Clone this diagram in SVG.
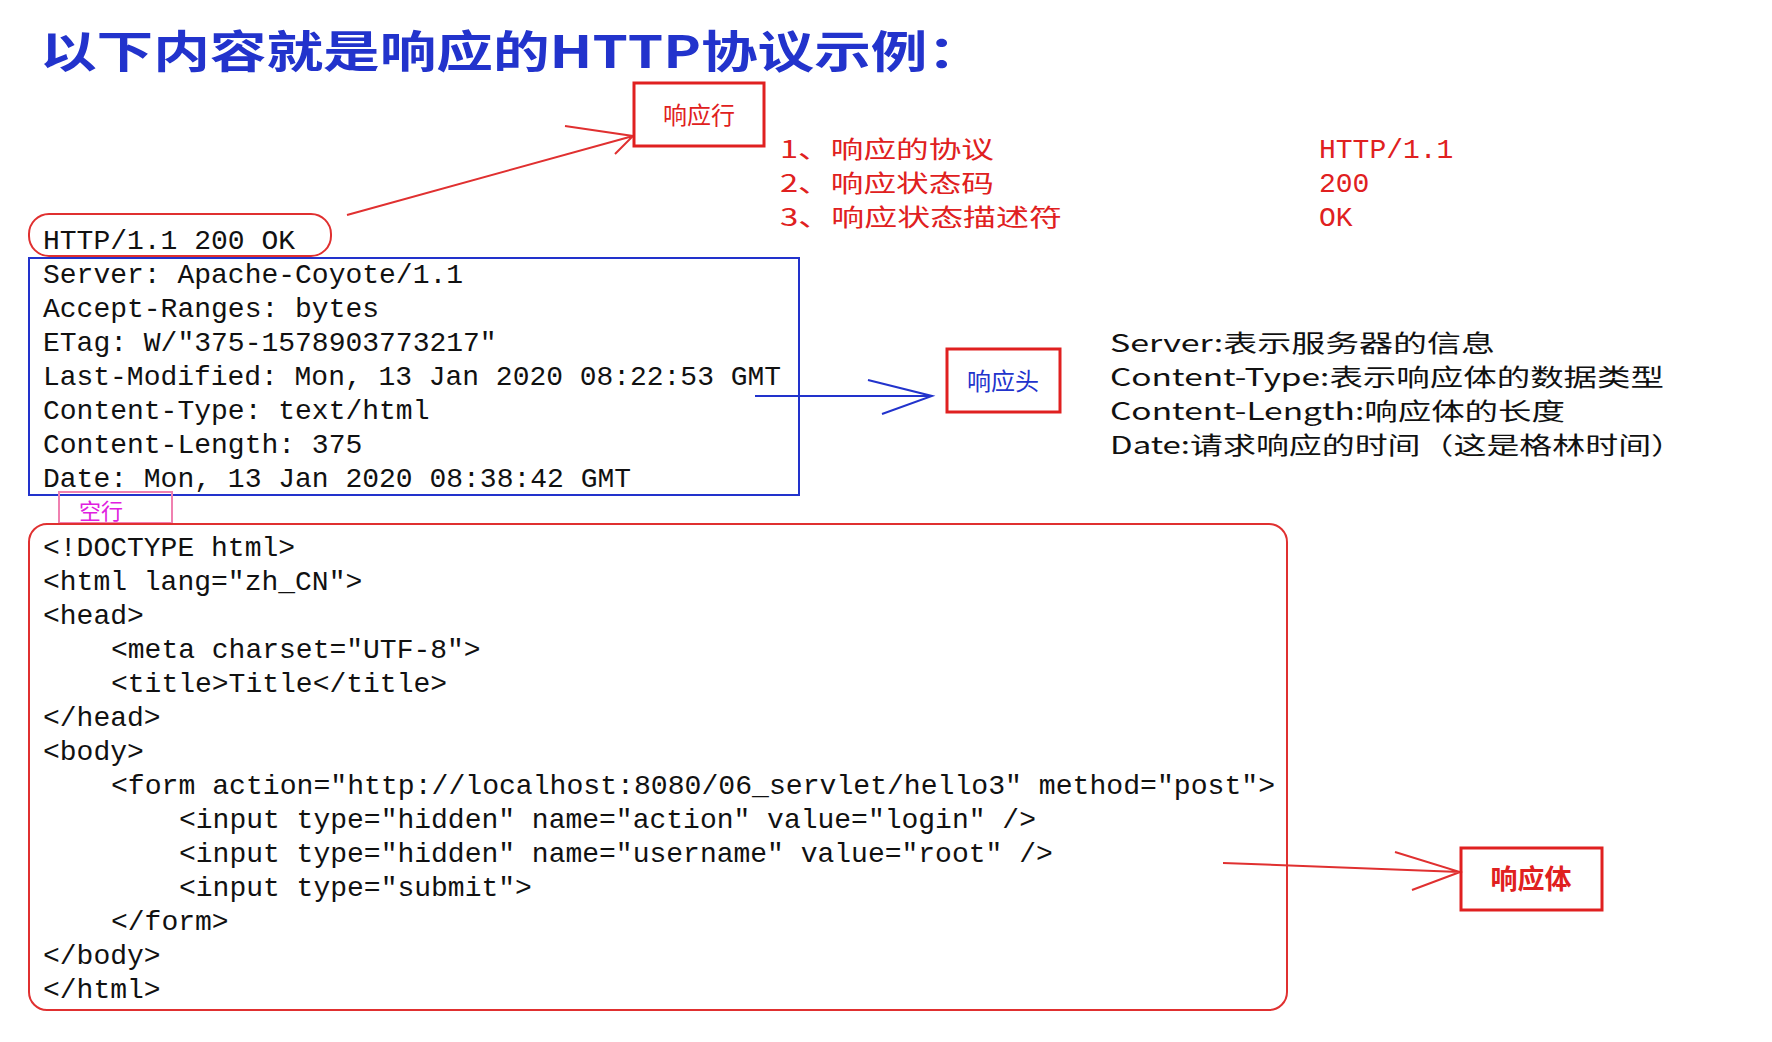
<svg xmlns="http://www.w3.org/2000/svg" width="1772" height="1042" viewBox="0 0 1772 1042">
<style>
.cn{font-family:"Noto Sans CJK SC","Liberation Sans",sans-serif}
.mono{font-family:"Liberation Mono","Noto Sans CJK SC",monospace;fill:#111}
.red{fill:#e02020}
.ln{fill:none;stroke-width:2}
</style>
<rect width="1772" height="1042" fill="#fff"/>
<text x="40" y="68" class="cn" font-size="44" font-weight="bold" fill="#2233cc" textLength="944" lengthAdjust="spacingAndGlyphs">以下内容就是响应的HTTP协议示例：</text>
<g id="connectors">
<path class="ln" stroke="#e03030" d="M347 215L633 136M565 126L633 136L615 154"/>
<path class="ln" stroke="#2233cc" d="M755 396L932 396M868 380L932 396L882 414"/>
<path class="ln" stroke="#e03030" d="M1223 863L1460 872M1395 852L1460 872L1412 890"/>
</g>
<g id="line-label">
<rect x="634" y="83" width="130" height="63" fill="none" stroke="#e02020" stroke-width="3"/>
<text x="699" y="124" text-anchor="middle" class="cn red" font-size="24">响应行</text>
</g>
<g id="line-desc" class="cn red" font-size="24">
<text x="780" y="158" textLength="214" lengthAdjust="spacingAndGlyphs">1、响应的协议</text>
<text x="780" y="192" textLength="214" lengthAdjust="spacingAndGlyphs">2、响应状态码</text>
<text x="780" y="226" textLength="282" lengthAdjust="spacingAndGlyphs">3、响应状态描述符</text>
<text x="1319" y="158" font-family="Liberation Mono" font-size="28">HTTP/1.1</text>
<text x="1319" y="192" font-family="Liberation Mono" font-size="28">200</text>
<text x="1319" y="226" font-family="Liberation Mono" font-size="28">OK</text>
</g>
<g id="status-line">
<rect x="29" y="214" width="302" height="42" rx="20" fill="none" stroke="#e03030" stroke-width="2"/>
<text x="43" y="249" class="mono" font-size="28">HTTP/1.1 200 OK</text>
</g>
<g id="headers">
<rect x="29" y="258" width="770" height="237" fill="none" stroke="#2233cc" stroke-width="2"/>
<g class="mono" font-size="28">
<text x="43" y="283">Server: Apache-Coyote/1.1</text>
<text x="43" y="317">Accept-Ranges: bytes</text>
<text x="43" y="351">ETag: W/"375-1578903773217"</text>
<text x="43" y="385" textLength="738" lengthAdjust="spacingAndGlyphs">Last-Modified: Mon, 13 Jan 2020 08:22:53 GMT</text>
<text x="43" y="419">Content-Type: text/html</text>
<text x="43" y="453">Content-Length: 375</text>
<text x="43" y="487">Date: Mon, 13 Jan 2020 08:38:42 GMT</text>
</g>
</g>
<g id="header-label">
<rect x="947" y="349" width="113" height="63" fill="none" stroke="#e02020" stroke-width="3"/>
<text x="1003" y="390" text-anchor="middle" class="cn" font-size="24" fill="#2233cc">响应头</text>
</g>
<g id="header-desc" class="cn" font-size="24" fill="#111">
<text x="1110" y="352" textLength="385" lengthAdjust="spacingAndGlyphs">Server:表示服务器的信息</text>
<text x="1110" y="386" textLength="554" lengthAdjust="spacingAndGlyphs">Content-Type:表示响应体的数据类型</text>
<text x="1110" y="420" textLength="455" lengthAdjust="spacingAndGlyphs">Content-Length:响应体的长度</text>
<text x="1110" y="454" textLength="574" lengthAdjust="spacingAndGlyphs">Date:请求响应的时间（这是格林时间）</text>
</g>
<g id="blank-line">
<rect x="59" y="492" width="113" height="31" fill="none" stroke="#f080b0" stroke-width="2"/>
<text x="79" y="519" class="cn" font-size="22" fill="#e020e0">空行</text>
</g>
<g id="body">
<rect x="29" y="524" width="1258" height="486" rx="18" fill="none" stroke="#e03030" stroke-width="2"/>
<g class="mono" font-size="28">
<text x="43" y="556">&lt;!DOCTYPE html&gt;</text>
<text x="43" y="590">&lt;html lang="zh_CN"&gt;</text>
<text x="43" y="624">&lt;head&gt;</text>
<text x="111" y="658">&lt;meta charset="UTF-8"&gt;</text>
<text x="111" y="692">&lt;title&gt;Title&lt;/title&gt;</text>
<text x="43" y="726">&lt;/head&gt;</text>
<text x="43" y="760">&lt;body&gt;</text>
<text x="111" y="794" textLength="1164" lengthAdjust="spacingAndGlyphs">&lt;form action="http://localhost:8080/06_servlet/hello3" method="post"&gt;</text>
<text x="179" y="828">&lt;input type="hidden" name="action" value="login" /&gt;</text>
<text x="179" y="862">&lt;input type="hidden" name="username" value="root" /&gt;</text>
<text x="179" y="896">&lt;input type="submit"&gt;</text>
<text x="111" y="930">&lt;/form&gt;</text>
<text x="43" y="964">&lt;/body&gt;</text>
<text x="43" y="998">&lt;/html&gt;</text>
</g>
</g>
<g id="body-label">
<rect x="1461" y="848" width="141" height="62" fill="none" stroke="#e02020" stroke-width="3"/>
<text x="1531" y="889" text-anchor="middle" class="cn red" font-size="27" font-weight="bold">响应体</text>
</g>
</svg>
